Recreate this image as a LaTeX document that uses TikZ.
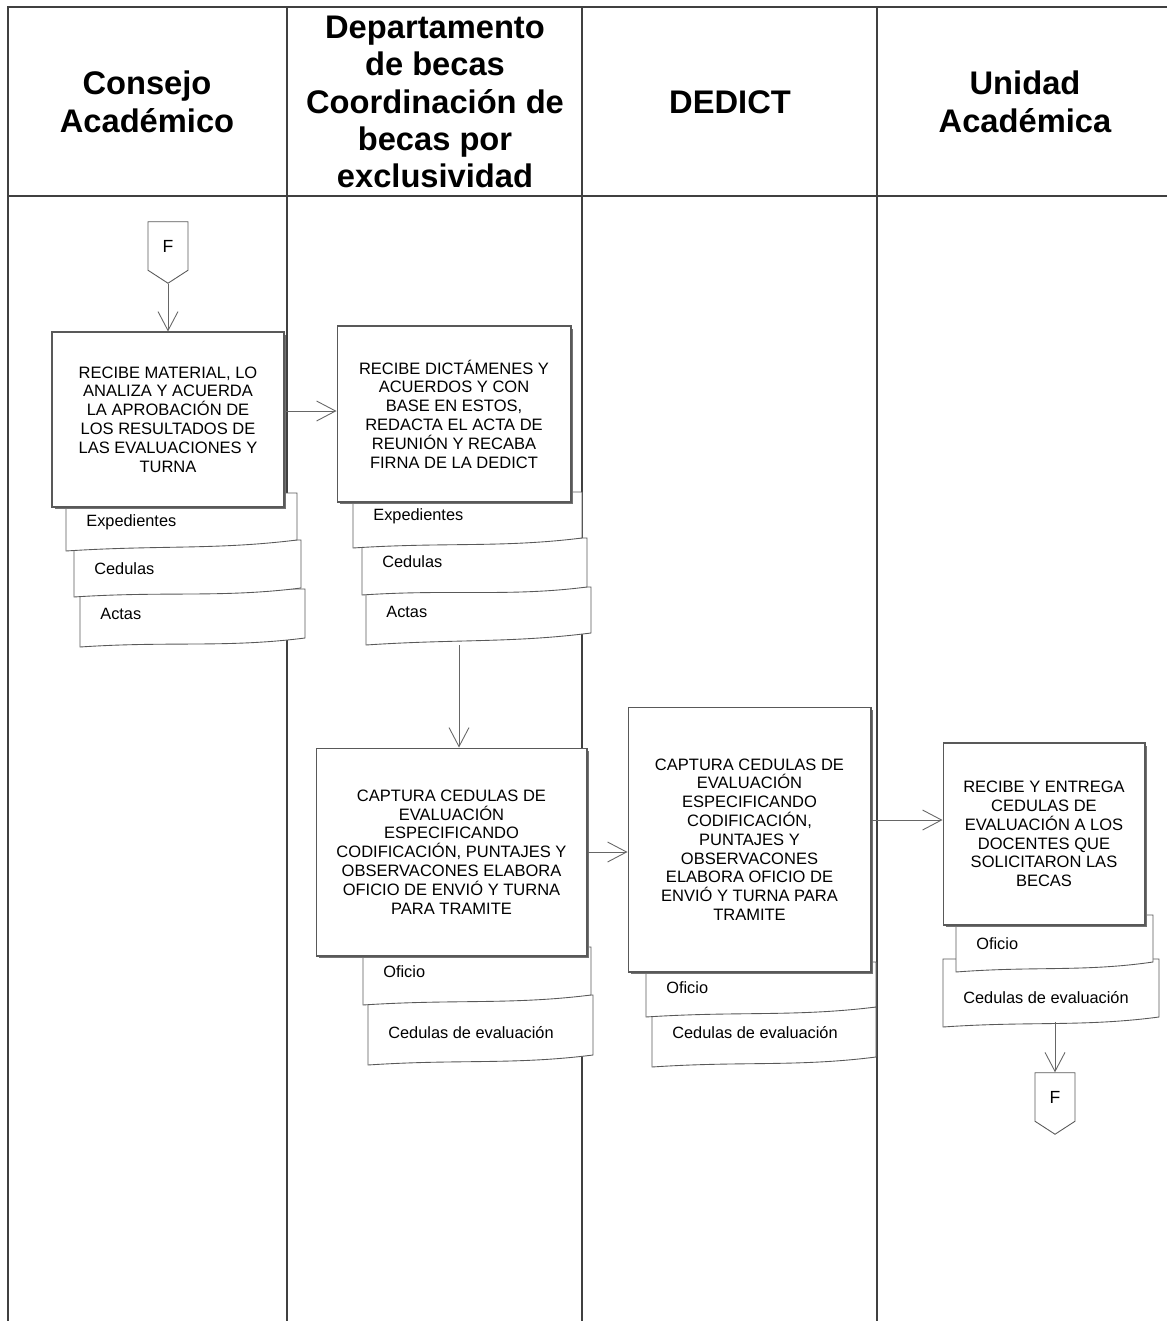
\documentclass[tikz,border=0pt]{standalone}
\usepackage{fontspec}
\setmainfont{Liberation Sans}
\usetikzlibrary{arrows.meta, positioning, calc, shapes.symbols, shadows}
\tikzset{
    lanehead/.style={font=\fontsize{18.6}{21.3}\selectfont\bfseries, align=center, text=black},
    laneline/.style={draw=black!75, line width=1.1pt},
    procbox/.style={rectangle, draw=black!65, fill=white, line width=0.6pt, inner sep=2pt,
        font=\fontsize{9.4}{10.7}\selectfont, align=center,
        drop shadow={shadow xshift=0.05cm, shadow yshift=-0.05cm, fill=black!55, opacity=1}},
    docpath/.style={draw=black!65, fill=white, line width=0.5pt},
    doclabel/.style={anchor=west, inner sep=0pt, font=\fontsize{9.3}{11}\selectfont},
    offpage/.style={shape=signal, signal to=south, signal pointer angle=114, draw=black!65, fill=white,
        line width=0.5pt, minimum width=0.8cm, minimum height=1.04cm, inner sep=0pt, font=\fontsize{10}{12}\selectfont},
    flowarrow/.style={-{Straight Barb[length=3.8mm,width=4mm]}, draw=black!60, line width=0.5pt}
}
% document sheet: name, left, right, top, right bottom, left bottom, label y, label
\newcommand{\docsheet}[8]{%
    \draw[docpath] (#2,#4) -- (#3,#4) -- (#3,#5)
        .. controls ({#3-0.35*(#3-#2)},{#5+10}) and ({#2+0.4*(#3-#2)},{#6-6}) .. (#2,#6) -- cycle;
    \node[doclabel] (#1) at ({#2+20},#7) {#8};
}

\begin{document}
\begin{tikzpicture}[x=0.02cm, y=-0.02cm]
    \useasboundingbox (0,0) rectangle (1167,1321);

    % Swimlanes
    \draw[laneline] (8,1321) -- (8,7) -- (1167,7);
    \draw[laneline] (8,196) -- (1167,196);
    \foreach \xl in {287,582,877}
        \draw[laneline] (\xl,7) -- (\xl,1321);

    \node[lanehead] (consejo) at (147,102) {Consejo\\Académico};
    \node[lanehead] (depto) at (435,102) {Departamento\\de becas\\Coordinación de\\becas por\\exclusividad};
    \node[lanehead] (dedict) at (730,102) {DEDICT};
    \node[lanehead] (unidad) at (1025,102) {Unidad\\Académica};

    % Supporting documents (lowest sheet first)
    \docsheet{actas1}{80}{305}{589}{638}{647}{614}{Actas}
    \docsheet{ced1}{74}{301}{540}{588}{597}{569}{Cedulas}
    \docsheet{exp1}{66}{297}{493}{540}{551}{522}{Expedientes}

    \docsheet{actas2}{366}{591}{587}{633}{645}{612}{Actas}
    \docsheet{ced2}{362}{587}{538}{587}{595}{562}{Cedulas}
    \docsheet{exp2}{353}{582}{492}{538}{548}{516}{Expedientes}

    \docsheet{ced3}{368}{593}{995}{1055}{1065}{1033}{Cedulas de evaluación}
    \docsheet{of3}{363}{591}{947}{995}{1005}{972}{Oficio}

    \docsheet{ced4}{652}{876}{1007}{1057}{1067}{1033}{Cedulas de evaluación}
    \docsheet{of4}{646}{876}{962}{1007}{1017}{988}{Oficio}

    \docsheet{ced5}{943}{1159}{959}{1017}{1027}{998}{Cedulas de evaluación}
    \docsheet{of5}{956}{1153}{915}{962}{972}{944}{Oficio}

    % Process boxes
    \node[procbox, minimum width=4.64cm, minimum height=3.5cm] (box1) at (168,419.5)
        {RECIBE MATERIAL, LO\\ANALIZA Y ACUERDA\\LA APROBACIÓN DE\\LOS RESULTADOS DE\\LAS EVALUACIONES Y\\TURNA};
    \node[procbox, minimum width=4.68cm, minimum height=3.52cm] (box2) at (454,414)
        {RECIBE DICTÁMENES Y\\ACUERDOS Y CON\\BASE EN ESTOS,\\REDACTA EL ACTA DE\\REUNIÓN Y RECABA\\FIRNA DE LA DEDICT};
    \node[procbox, minimum width=5.42cm, minimum height=4.16cm] (box3) at (451.5,852)
        {CAPTURA CEDULAS DE\\EVALUACIÓN\\ESPECIFICANDO\\CODIFICACIÓN, PUNTAJES Y\\OBSERVACONES ELABORA\\OFICIO DE ENVIÓ Y TURNA\\PARA TRAMITE};
    \node[procbox, minimum width=4.86cm, minimum height=5.3cm] (box4) at (749.5,839.5)
        {CAPTURA CEDULAS DE\\EVALUACIÓN\\ESPECIFICANDO\\CODIFICACIÓN,\\PUNTAJES Y\\OBSERVACONES\\ELABORA OFICIO DE\\ENVIÓ Y TURNA PARA\\TRAMITE};
    \node[procbox, minimum width=4.04cm, minimum height=3.64cm] (box5) at (1044,834)
        {RECIBE Y ENTREGA\\CEDULAS DE\\EVALUACIÓN A LOS\\DOCENTES QUE\\SOLICITARON LAS\\BECAS};

    % Connectors
    \node[offpage] (fstart) at (168,246) {F};
    \node[offpage] (fend) at (1055,1097) {F};
    \coordinate (a2out) at (459,645);
    \coordinate (c5out) at (1055,1022);

    \draw[flowarrow] (fstart.south) -- (box1.north);
    \draw[flowarrow] ([yshift=0.17cm]box1.east) -- ([yshift=0.17cm]box1.east -| box2.west);
    \draw[flowarrow] (a2out) -- (a2out |- box3.north);
    \draw[flowarrow] (box3.east) -- (box3.east -| box4.west);
    \draw[flowarrow] ([yshift=0.39cm]box4.east) -- ([yshift=0.39cm]box4.east -| box5.west);
    \draw[flowarrow] (c5out) -- (fend.north);
\end{tikzpicture}
\end{document}
